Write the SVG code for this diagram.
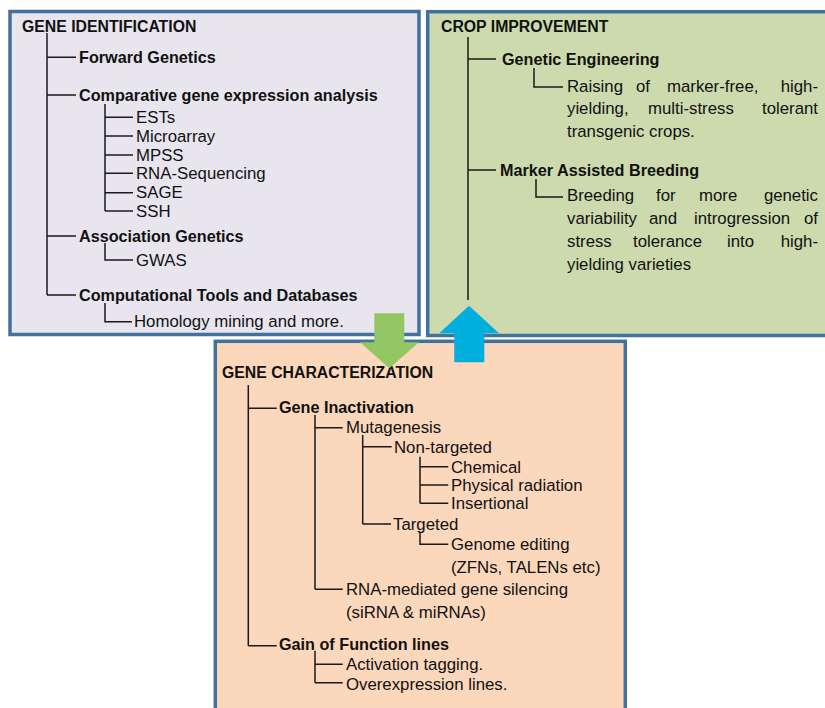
<svg xmlns="http://www.w3.org/2000/svg" width="825" height="708" viewBox="0 0 825 708">
<style>
.box{stroke:#41719c;stroke-width:3.5}
.t{font-family:"Liberation Sans",Arial,sans-serif;font-size:16.8px;fill:#111}
.e{text-anchor:end}
.b{font-family:"Liberation Sans",Arial,sans-serif;font-size:16.2px;font-weight:bold;fill:#111}
.h{font-family:"Liberation Sans",Arial,sans-serif;font-size:15.8px;font-weight:bold;fill:#111}
.ln{fill:none;stroke:#1a1a1a;stroke-width:1.5}
</style>
<rect width="825" height="708" fill="#ffffff"/>

<g id="gene-identification">
<rect class="box" x="10" y="11.5" width="409" height="323" fill="#e8e5ee"/>
<text class="h" x="22" y="32">GENE IDENTIFICATION</text>
<text class="b" x="79" y="63">Forward Genetics</text>
<text class="b" x="79" y="100.5">Comparative gene expression analysis</text>
<text class="t" x="136" y="123">ESTs</text>
<text class="t" x="136" y="141.5">Microarray</text>
<text class="t" x="136" y="160.5">MPSS</text>
<text class="t" x="136" y="179">RNA-Sequencing</text>
<text class="t" x="136" y="198">SAGE</text>
<text class="t" x="136" y="216.5">SSH</text>
<text class="b" x="79" y="242">Association Genetics</text>
<text class="t" x="136" y="265.5">GWAS</text>
<text class="b" x="79" y="301">Computational Tools and Databases</text>
<text class="t" x="134" y="327">Homology mining and more.</text>
</g>

<g id="crop-improvement">
<rect class="box" x="427.7" y="11.7" width="410" height="323.8" fill="#cddaae"/>
<text class="h" x="441" y="32">CROP IMPROVEMENT</text>
<text class="b" x="502" y="65">Genetic Engineering</text>
<text class="t" y="91.5"><tspan x="567">Raising</tspan><tspan x="636">of</tspan><tspan x="667">marker-free,</tspan></text>
<text class="t e" x="818" y="91.5">high-</text>
<text class="t" y="114"><tspan x="567">yielding,</tspan><tspan x="648">multi-stress</tspan></text>
<text class="t e" x="818" y="114">tolerant</text>
<text class="t" x="567" y="137">transgenic crops.</text>
<text class="b" x="500" y="176">Marker Assisted Breeding</text>
<text class="t" y="200.5"><tspan x="567">Breeding</tspan><tspan x="656">for</tspan><tspan x="699">more</tspan></text>
<text class="t e" x="818" y="200.5">genetic</text>
<text class="t" y="224"><tspan x="567">variability</tspan><tspan x="649">and</tspan><tspan x="694">introgression</tspan></text>
<text class="t e" x="818" y="224">of</text>
<text class="t" y="247"><tspan x="567">stress</tspan><tspan x="633">tolerance</tspan><tspan x="727">into</tspan></text>
<text class="t e" x="818" y="247">high-</text>
<text class="t" x="567" y="270">yielding varieties</text>
</g>

<g id="gene-characterization">
<rect class="box" x="215.3" y="341.3" width="410" height="380" fill="#fbd7bc"/>
<text class="h" x="222" y="378">GENE CHARACTERIZATION</text>
<text class="b" x="279" y="413">Gene Inactivation</text>
<text class="t" x="346" y="433">Mutagenesis</text>
<text class="t" x="394" y="453">Non-targeted</text>
<text class="t" x="451" y="472.5">Chemical</text>
<text class="t" x="451" y="491">Physical radiation</text>
<text class="t" x="451" y="508.5">Insertional</text>
<text class="t" x="393" y="529.5">Targeted</text>
<text class="t" x="451" y="550">Genome editing</text>
<text class="t" x="451" y="572.5">(ZFNs, TALENs etc)</text>
<text class="t" x="346" y="595">RNA-mediated gene silencing</text>
<text class="t" x="346" y="617.5">(siRNA &amp; miRNAs)</text>
<text class="b" x="279" y="649.5">Gain of Function lines</text>
<text class="t" x="346" y="670">Activation tagging.</text>
<text class="t" x="346" y="689.5">Overexpression lines.</text>
</g>

<g id="connectors">
<path class="ln" d="M47 33V295M47 57.3H76M47 95H76M47 236H76M47 295H76"/>
<path class="ln" d="M105 104V211M105 117.3H133M105 136H133M105 155H133M105 173.3H133M105 192.7H133M105 211H133"/>
<path class="ln" d="M105 243V260H133M105 303V321.7H132"/>
<path class="ln" d="M468 37V300M468 59H496M468 170H496"/>
<path class="ln" d="M534 68V87H563M536 179V197H563"/>
<path class="ln" d="M248.3 385V645.7M248.3 408.3H276.7M248.3 645.7H276.7"/>
<path class="ln" d="M315 415V589.3M315 427.7H342.7M315 589.3H342.7"/>
<path class="ln" d="M362.7 435V524M362.7 446.7H391.7M362.7 524H391"/>
<path class="ln" d="M420 456.7V503.3M420 466.7H448.3M420 485H448.3M420 503.3H448.3"/>
<path class="ln" d="M420 531.7V544.3H448.3"/>
<path class="ln" d="M315 650.7V682.7M315 664.3H342.7M315 682.7H342.7"/>
</g>

<g id="arrow-down">
<polygon points="374.3,313.3 404.3,313.3 404.3,342.3 419,342.3 389.3,368.3 360,342.3 374.3,342.3" fill="#93c763"/>
</g>
<g id="arrow-up">
<polygon points="469,305.7 499,333.3 484.3,333.3 484.3,362.3 454.3,362.3 454.3,333.3 439.3,333.3" fill="#00afdd"/>
</g>
</svg>
